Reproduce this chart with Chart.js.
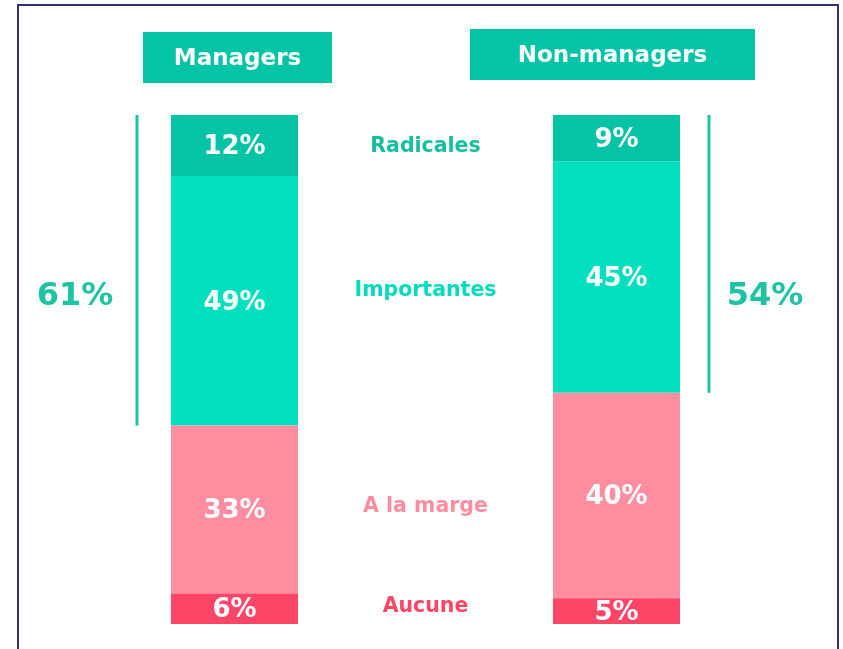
<!DOCTYPE html>
<html>
<head>
<meta charset="utf-8">
<script src="https://cdn.jsdelivr.net/npm/chart.js@4.4.1/dist/chart.umd.min.js"></script>
<style>
  html, body { margin: 0; padding: 0; background: #ffffff; }
  #wrap { width: 843px; height: 649px; position: relative; }
</style>
</head>
<body>
<div id="wrap"><canvas id="chart" width="843" height="649"></canvas></div>
<script>
// Données
const groupes = ['Managers', 'Non-managers'];
const niveaux = ['Radicales', 'Importantes', 'A la marge', 'Aucune'];
const managers = [12, 49, 33, 6];
const nonManagers = [9, 45, 40, 5];
const totauxHaut = [61, 54]; // Radicales + Importantes

const couleursBarres = ['#05c4a6', '#00e0bf', '#ff8da0', '#ff4567'];
const couleursTextes = ['#13bf9f', '#00dcbc', '#ff8da0', '#ff4466'];
const decalages = [5, 2, 4, -3]; // petit réglage vertical des libellés centraux
const tealTitre = '#04c4a7';
const police = '"DejaVu Sans", sans-serif';

// Chaque barre remplit toute la hauteur (total ramené à 100)
function normaliser(valeurs) {
    const somme = valeurs.reduce((a, b) => a + b, 0);
    return valeurs.map(v => v * 100 / somme);
}
const mNorm = normaliser(managers);
const nNorm = normaliser(nonManagers);

// Du bas vers le haut : Aucune, A la marge, Importantes, Radicales
const ordre = [3, 2, 1, 0];
const datasets = ordre.map(i => ({
    label: niveaux[i],
    data: [mNorm[i], null, nNorm[i]],
    brut: [managers[i], null, nonManagers[i]],
    niveau: i,
    backgroundColor: couleursBarres[i],
    borderWidth: 0,
    barPercentage: 0.665,
    categoryPercentage: 1
}));

const decor = {
    id: 'decor',
    beforeDraw(chart) {
        const c = chart.ctx;
        c.save();
        c.strokeStyle = '#2e3272';
        c.lineWidth = 2;
        c.strokeRect(18, 5, 820, 700);
        c.restore();
    },
    afterDatasetsDraw(chart) {
        const c = chart.ctx;
        const xs = chart.scales.x;
        c.save();
        c.textAlign = 'center';
        c.textBaseline = 'middle';

        // Valeurs dans les barres
        c.fillStyle = '#ffffff';
        c.font = 'bold 26px ' + police;
        chart.data.datasets.forEach((ds, d) => {
            const meta = chart.getDatasetMeta(d);
            meta.data.forEach((el, k) => {
                if (ds.brut[k] == null) return;
                c.fillText(ds.brut[k] + '%', el.x, (el.y + el.base) / 2 + 2);
            });
        });

        // Libellés centraux
        c.font = 'bold 20.5px ' + police;
        chart.data.datasets.forEach((ds, d) => {
            const meta = chart.getDatasetMeta(d);
            const a = meta.data[0], b = meta.data[2];
            const y = ((a.y + a.base) / 2 + (b.y + b.base) / 2) / 2;
            c.fillStyle = couleursTextes[ds.niveau];
            c.fillText(ds.label, xs.getPixelForValue(1), y + decalages[ds.niveau]);
        });

        // En-têtes
        const iRad = chart.data.datasets.findIndex(ds => ds.niveau === 0);
        const iImp = chart.data.datasets.findIndex(ds => ds.niveau === 1);
        const boites = [
            { k: 0, w: 189, top: 32, h: 51 },
            { k: 2, w: 285, top: 29, h: 51 }
        ];
        boites.forEach((bx, g) => {
            const cx = xs.getPixelForValue(bx.k) + (g === 0 ? 3 : -4);
            c.fillStyle = tealTitre;
            c.fillRect(cx - bx.w / 2, bx.top, bx.w, bx.h);
            c.fillStyle = '#ffffff';
            c.font = 'bold 23px ' + police;
            c.fillText(groupes[g], cx, bx.top + bx.h / 2 + 2);
        });

        // Traits Radicales + Importantes
        [0, 2].forEach((k, g) => {
            const haut = chart.getDatasetMeta(iRad).data[k];
            const bas = chart.getDatasetMeta(iImp).data[k];
            const lx = g === 0 ? haut.x - haut.width / 2 - 34 : haut.x + haut.width / 2 + 29;
            c.strokeStyle = '#1ec3a3';
            c.lineWidth = 3;
            c.beginPath();
            c.moveTo(lx, haut.y);
            c.lineTo(lx, bas.base);
            c.stroke();
            c.fillStyle = '#1ec3a3';
            c.font = 'bold 32px ' + police;
            const tx = g === 0 ? lx - 62 : lx + 56;
            c.fillText(totauxHaut[g] + '%', tx, chart.chartArea.top + 182);
        });
        c.restore();
    }
};

new Chart(document.getElementById('chart'), {
    type: 'bar',
    data: { labels: ['Managers', '', 'Non-managers'], datasets: datasets },
    options: {
        responsive: false,
        animation: false,
        layout: { padding: { left: 139, right: 131, top: 115, bottom: 25 } },
        plugins: { legend: { display: false }, tooltip: { enabled: false } },
        scales: {
            x: { stacked: true, display: false },
            y: { stacked: true, display: false, min: 0, max: 100 }
        }
    },
    plugins: [decor]
});
</script>
</body>
</html>
